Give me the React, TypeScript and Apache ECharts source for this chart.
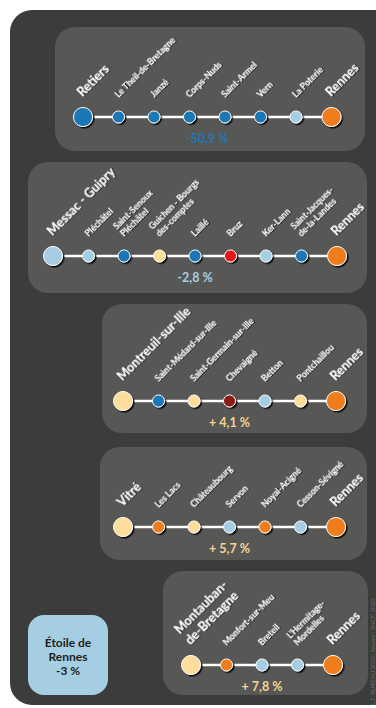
import React, { useEffect, useRef } from "react";
import * as echarts from "echarts";

// ---- Data ----
const line1Stations = ["Retiers", "Le Theil-de-Bretagne", "Janzé", "Corps-Nuds", "Saint-Armel", "Vern", "La Poterie", "Rennes"];
const line1Classes = ["forteBaisse", "forteBaisse", "forteBaisse", "forteBaisse", "forteBaisse", "forteBaisse", "baisse", "pole"];

const line2Stations = ["Messac - Guipry", "Pléchâtel", "Saint-Senoux\nPléchâtel", "Guichen - Bourgs\ndes-comptes", "Laillé", "Bruz", "Ker-Lann", "Saint-Jacques-\nde-la-Landes", "Rennes"];
const line2Classes = ["baisse", "baisse", "forteBaisse", "hausse", "forteBaisse", "tresForteHausse", "baisse", "forteBaisse", "pole"];

const line3Stations = ["Montreuil-sur-Ille", "Saint-Médard-sur-Ille", "Saint-Germain-sur-Ille", "Chevaigné", "Betton", "Pontchaillou", "Rennes"];
const line3Classes = ["hausse", "forteBaisse", "hausse", "exceptionnelle", "baisse", "hausse", "pole"];

const line4Stations = ["Vitré", "Les Lacs", "Châteaubourg", "Servon", "Noyal-Acigné", "Cesson-Sévigné", "Rennes"];
const line4Classes = ["hausse", "forteHausse", "hausse", "baisse", "forteHausse", "baisse", "pole"];

const line5Stations = ["Montauban-\nde-Bretagne", "Monfort-sur-Meu", "Breteil", "L'Hermitage-\nMordelles", "Rennes"];
const line5Classes = ["hausse", "forteHausse", "baisse", "baisse", "pole"];

const lineChanges = [-50.9, -2.8, 4.1, 5.7, 7.8];
const starLabel = "Étoile de\nRennes";
const starChange = -3;
const credit = "L.T. BUREAU 2020, Source : SNCF, 2020";

// ---- Styles ----
const classColors: Record<string, string> = {
  forteBaisse: "#1f78b4",
  baisse: "#a6cee3",
  hausse: "#fddc9c",
  forteHausse: "#ef7d1a",
  tresForteHausse: "#e3141c",
  exceptionnelle: "#8c1a14",
  pole: "#ef7d1a",
};
const changeColor = (v: number) => (v < -10 ? "#1f78b4" : v < 0 ? "#a6cee3" : "#f6d491");
const fmtChange = (v: number) => {
  const s = Math.abs(v).toString().replace(".", ",");
  return v < 0 ? `-${s} %` : `+ ${s} %`;
};

const FONT = "Lato, 'Open Sans', sans-serif";
const SPACING = 35.5;

const lines = [
  { stations: line1Stations, classes: line1Classes, panel: [55, 27, 310, 124], lineY: 117, firstX: 83 },
  { stations: line2Stations, classes: line2Classes, panel: [28, 162, 339, 131], lineY: 256, firstX: 53 },
  { stations: line3Stations, classes: line3Classes, panel: [102, 304, 265, 129], lineY: 401, firstX: 123 },
  { stations: line4Stations, classes: line4Classes, panel: [100, 447, 267, 113], lineY: 527, firstX: 123 },
  { stations: line5Stations, classes: line5Classes, panel: [163, 571, 205, 124], lineY: 665, firstX: 191 },
];

export default function App() {
  const ref = useRef<HTMLDivElement>(null);
  useEffect(() => {
    if (!ref.current) return;
    const chart = echarts.init(ref.current, undefined, { renderer: "svg" });

    const grids: any[] = [];
    const xAxes: any[] = [];
    const yAxes: any[] = [];
    const series: any[] = [];
    const graphics: any[] = [
      { type: "rect", shape: { x: 10, y: 10, width: 390, height: 695, r: 22 }, style: { fill: "#3c3c3b" }, z: -20 },
    ];

    lines.forEach((ln, i) => {
      const n = ln.stations.length;
      const width = (n - 1) * SPACING;
      grids.push({ left: ln.firstX, top: ln.lineY - 10, width, height: 20 });
      xAxes.push({ gridIndex: i, type: "value", min: 0, max: n - 1, show: false });
      yAxes.push({ gridIndex: i, type: "value", min: -1, max: 1, show: false });
      const [px, py, pw, ph] = ln.panel;
      graphics.push({ type: "rect", shape: { x: px, y: py, width: pw, height: ph, r: 20 }, style: { fill: "#575756" }, z: -10 });
      graphics.push({
        type: "text",
        x: ln.firstX + width / 2,
        y: ln.lineY + 21,
        style: {
          text: fmtChange(lineChanges[i]),
          fill: changeColor(lineChanges[i]),
          font: `bold 12.5px ${FONT}`,
          textAlign: "center",
          textVerticalAlign: "middle",
        },
      });
      series.push({
        type: "line",
        xAxisIndex: i,
        yAxisIndex: i,
        data: ln.stations.map((_, k) => [k, 0]),
        symbol: "none",
        lineStyle: { color: "#ffffff", width: 2.5 },
        silent: true,
        z: 2,
      });
      series.push({
        type: "scatter",
        xAxisIndex: i,
        yAxisIndex: i,
        clip: false,
        z: 3,
        itemStyle: {
          borderColor: "#ffffff",
          borderWidth: 1,
          shadowColor: "rgba(0,0,0,0.9)",
          shadowOffsetX: 1.5,
          shadowOffsetY: 1.5,
          shadowBlur: 1,
          opacity: 1,
        },
        label: { show: true, formatter: "{b}" },
        data: ln.stations.map((name, k) => {
          const big = k === 0 || k === n - 1;
          const size = big ? 19 : 12;
          const r = size / 2;
          return {
            name,
            value: [k, 0],
            symbolSize: size,
            itemStyle: { color: classColors[ln.classes[k]] },
            label: {
              show: true,
              position: [r + 2, r - 17],
              rotate: 45,
              align: "left",
              verticalAlign: "bottom",
              color: "#ffffff",
              fontFamily: FONT,
              fontWeight: "bold",
              fontSize: big ? 12.5 : 8.7,
              lineHeight: big ? 15 : 10.5,
              textShadowColor: "rgba(0,0,0,0.7)",
              textShadowOffsetX: 1,
              textShadowOffsetY: 1,
              textShadowBlur: 1,
            },
          };
        }),
      });
    });

    graphics.push({ type: "rect", shape: { x: 28, y: 615, width: 80, height: 80, r: 16 }, style: { fill: "#a6cee3" }, z: -5 });
    graphics.push({
      type: "text",
      x: 68,
      y: 656,
      style: {
        text: `${starLabel}\n${fmtChange(starChange)}`,
        fill: "#1d1d1b",
        font: `bold 12px ${FONT}`,
        lineHeight: 14,
        textAlign: "center",
        textVerticalAlign: "middle",
      },
    });
    graphics.push({
      type: "text",
      x: 372,
      y: 705,
      rotation: Math.PI / 2,
      style: {
        text: credit,
        fill: "#707070",
        font: `6px ${FONT}`,
        textAlign: "left",
        textVerticalAlign: "middle",
      },
    });

    chart.setOption({
      animation: false,
      backgroundColor: "#ffffff",
      grid: grids,
      xAxis: xAxes,
      yAxis: yAxes,
      series,
      graphic: { elements: graphics },
    });
    return () => chart.dispose();
  }, []);
  return <div ref={ref} style={{ position: "fixed", left: 0, top: 0, width: 376, height: 708 }} />;
}
